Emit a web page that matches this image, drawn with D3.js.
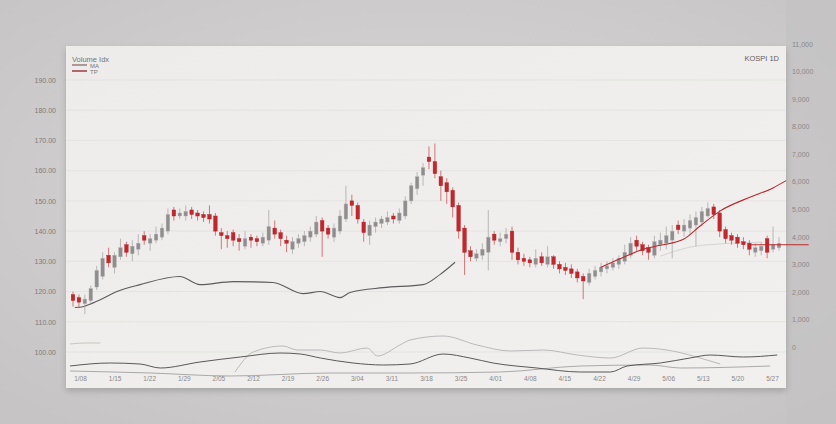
<!DOCTYPE html>
<html><head><meta charset="utf-8">
<script src="https://cdn.jsdelivr.net/npm/d3@7"></script>
<style>html,body{margin:0;padding:0;background:#cbc9ca;}svg{display:block;}</style>
</head><body><svg id="c" width="836" height="424"></svg>
<script>
// ---- data ----
const categories = ["1/08","1/15","1/22","1/29","2/05","2/12","2/19","2/26","3/04","3/11","3/18","3/25","4/01","4/08","4/15","4/22","4/29","5/06","5/13","5/20","5/27"];
const priceTicks = [100,110,120,130,140,150,160,170,180,190];
const volumeTicks = [0,1000,2000,3000,4000,5000,6000,7000,8000,9000,10000,11000];
const opens = [119,118,116,117,121.5,125,132,128,131.5,135.5, 132.5,134,138.5,136,137,138,140,147,145,145, 147,146,145.5,145.5,145,139.5,138.5,139.5,137.5,135, 138,137.5,136,137,141,139.5,137,134,136,136.5, 138,139,143.5,141,138,140,144,150,148.5,143, 138.5,141.5,142.5,143,145,143.5,145,150,154,158.5, 164.5,163,158,156,153.5,148.5,141,133.5,131,132, 133,139,136.5,137.5,140,133,131,130.5,129,131.5, 129,131.5,129,128,127.5,126.5,125,123,125,126.5, 127.5,128,129,130,132,137,135.5,134.5,132,135.5, 136,137,142,140,141,142,143,145,148,146, 140.5,138.5,138,136.5,136,133,133.5,137.5,134,134.5];
const closes = [117,116.5,117.5,121,127,131,129.5,132,134.5,133, 135,136,137,137.5,139,141,145.5,145,146,146.5, 145.5,145,144.5,144,140,138.5,137.5,137,136.5,137.5, 137,136.5,138,141.5,139,137.5,136,136.5,137.5,138.5, 140,143,140,139,141,145,149,148.5,144,139.5, 142,143,144,144.5,144,146,150,155,158,161, 163,159,155,153,148,140,133,131.5,132.5,134, 138,137,137.5,139,133,130.5,130,129.5,131,129.5, 131.5,129,127.5,127,126,124.5,123.5,126,127,128, 128.5,129.5,131,133,136,135,133.5,133,136.5,137, 138.5,140,140.5,142,143.5,144.5,146.5,147.5,145.5,140, 137.5,137,136,135.5,134,134.5,135,133,135.5,136];
const highs = [120,119,119,122,128.5,133,134.5,133,137.5,136.5, 137,139,140,139,141.5,142.5,147.5,148,147.5,148.5, 148,147,146.5,148.5,146,141,140,140.5,139,140, 139,138.5,139.5,147,143.5,140.5,138.5,138,139,140, 141.5,145,144.5,142,142.5,147,155,152,149.5,144, 143.5,144.5,145,146.5,146,147.5,151.5,156,159.5,162.5, 168,169,160,157.5,154.5,149.5,142,135,134,136, 147,140,139.5,141,141.5,134.5,132.5,131.5,134,133, 135,132,130,129.5,129,127.5,126,127.5,128.5,129.5, 130,131,132,135.5,138,138.5,136.5,135.5,138.5,139.5, 141.5,142,143.5,144,145.5,146.5,148,149.5,149,147, 141.5,139.5,139,138,137,136,136.5,138.5,141.5,138];
const lows = [115,114.5,112.5,116,120.5,124,128,126,130.5,131.5, 130,132,135.5,133.5,136,137,139,143.5,144,143.5, 144,143.5,143,142.5,138.5,134,134.5,135,133.5,134, 134.5,135,135,135.5,137.5,135,133,132.5,134.5,135, 136.5,138,131.5,137.5,136.5,139,143,145,142.5,136.5, 135.5,139.5,141,142,142.5,142.5,144,149,152,155, 160.5,157.5,150,149,144.5,137.5,125.5,130,130,130.5, 127,135.5,135,136,130.5,129,128.5,128,128,128.5, 128,127.5,126,125.5,124.5,123,117.5,122,124,125, 126,127,127.5,129,131,133.5,132,130.5,131,133.5, 134,131,139,138,139,135,141.5,144.5,144,138, 136,135.5,134.5,134,132,131.5,132,131,133,133.5];
// moving-average style lines (candle index, price)
const maIndex  = [0.3,1.7,4.6,7.4,11.3,18,21.4,27,33.7,38.8,41.7,45,46.7,52.3,59,61.9,64.4];
const maValues = [114.7,115,117.3,120,122.3,125,122.3,123.3,123,119.3,120,118,119.7,121.3,122.3,125.7,129.7];
const redIndex  = [88.9,92.7,96.1,99,102.9,105.7,109.1,114.2,118,120.2];
const redValues = [128,131.3,134,135.3,137.3,141.7,146.7,151.3,154.3,156.7];
const faintIndex  = [99,104,108.6,115.9];
const faintValues = [131.7,134.7,135.7,136.3];
const lastPrice = 135.5;
// indicator sub-panel lines (candle index, value)
const ind1Index  = [-0.5,6.2,11.3,14.7,21.4,28.2,34.9,38.3,41.7,47.2,52.3,56.8,62.4,66.9,70.8,78.2,85.5,90.6,93.4,99,104,107.4,113,118.7];
const ind1Values = [14,17,16,12,18,23,27,26,22,17,15,16,26,22,17,12,8,8,14,17,22,25,23,25];
const ind2Index  = [27.3,30.4,35.4,37.8,41.7,45,49.6,51.3,55.1,56.8,62.4,68.1,73.7,79.3,85,90.6,96.1,101.9,105.7,109.1];
const ind2Values = [8,28,34,30,30,27,32,24,35,40,44,35,29,30,25,22,32,28,22,16];
const ind3Index  = [-0.5,13,26.5,43.3,56.8,72,85.5,97.3,102.4,117.5];
const ind3Values = [9,7,4,7,7,8,14,15,12,14];
const ind4Index  = [-0.5,2,4.6];
const ind4Values = [36,37,37];

// ---- drawing ----
const svg = d3.select("#c");
const defs = svg.append("defs");
const bg = defs.append("radialGradient").attr("id","bg").attr("cx","50%").attr("cy","45%").attr("r","70%");
bg.append("stop").attr("offset","0%").attr("stop-color","#d9d7d8");
bg.append("stop").attr("offset","100%").attr("stop-color","#c6c4c5");
const pg = defs.append("linearGradient").attr("id","pg").attr("x1","0").attr("y1","0").attr("x2","1").attr("y2","1");
pg.append("stop").attr("offset","0%").attr("stop-color","#edecea");
pg.append("stop").attr("offset","100%").attr("stop-color","#f1f0ee");
const sh = defs.append("filter").attr("id","sh").attr("x","-5%").attr("y","-5%").attr("width","110%").attr("height","115%");
sh.append("feDropShadow").attr("dx",0).attr("dy",3).attr("stdDeviation",3).attr("flood-color","#000").attr("flood-opacity",0.18);

svg.append("rect").attr("width",836).attr("height",424).attr("fill","url(#bg)");
svg.append("rect").attr("x",786).attr("y",0).attr("width",50).attr("height",424).attr("fill","#c3c1c2").attr("opacity",0.6);

const P = {x:66,y:46,w:720,h:342};
svg.append("rect").attr("x",P.x).attr("y",P.y).attr("width",P.w).attr("height",P.h).attr("fill","url(#pg)").attr("filter","url(#sh)");

const n = closes.length;
const x = d3.scaleLinear().domain([0,n-1]).range([73,779]);
const y = d3.scaleLinear().domain([100,190]).range([352,80]);
const yv = d3.scaleLinear().domain([0,11000]).range([347,44]);
const yi = d3.scaleLinear().domain([0,50]).range([380,330]);
const xc = d3.scalePoint().domain(categories).range([80,772]);

const font = "'Liberation Sans', Arial, sans-serif";
// grid
svg.append("g").selectAll("line").data(priceTicks).join("line")
  .attr("x1",P.x).attr("x2",P.x+P.w).attr("y1",d=>y(d)).attr("y2",d=>y(d))
  .attr("stroke","#e2e1df").attr("stroke-width",0.8);

// left axis
const gl = svg.append("g").attr("transform","translate(56,0)")
  .call(d3.axisLeft(y).tickValues(priceTicks).tickSize(0).tickPadding(0).tickFormat(d3.format(".2f")));
gl.select(".domain").remove();
gl.selectAll("text").attr("fill","#7d7b7c").attr("font-size",7).attr("font-family",font);

// right axis
const gr = svg.append("g").attr("transform","translate(792,0)")
  .call(d3.axisRight(yv).tickValues(volumeTicks).tickSize(0).tickPadding(0).tickFormat(d3.format(",")));
gr.select(".domain").remove();
gr.selectAll("text").attr("fill","#8a8889").attr("font-size",7).attr("font-family",font);

// bottom axis
const gb = svg.append("g").attr("transform","translate(0,376)")
  .call(d3.axisBottom(xc).tickSize(0).tickPadding(0));
gb.select(".domain").remove();
gb.selectAll("text").attr("fill","#8a8889").attr("font-size",6.5).attr("font-family",font);

// indicator lines
const line = d3.line().curve(d3.curveMonotoneX);
function drawLine(idx, vals, sc, color, w, op){
  const pts = idx.map((d,i)=>[x(d), sc(vals[i])]);
  svg.append("path").attr("d",line(pts)).attr("fill","none").attr("stroke",color).attr("stroke-width",w).attr("opacity",op);
}
drawLine(ind4Index, ind4Values, yi, "#c9c6b8", 1, 1);
drawLine(ind3Index, ind3Values, yi, "#9a9899", 0.9, 0.9);
drawLine(ind2Index, ind2Values, yi, "#b4b2b3", 0.9, 1);
drawLine(ind1Index, ind1Values, yi, "#5a5859", 1, 1);

// upper lines
drawLine(faintIndex, faintValues, y, "#d6d4d4", 1, 1);
drawLine(maIndex, maValues, y, "#5d5b5c", 1.1, 1);

// candles
const bw = 3.6;
const cg = svg.append("g");
const idxs = d3.range(n);
const up = i => closes[i] >= opens[i];
cg.selectAll("line").data(idxs).join("line")
  .attr("x1",i=>x(i)).attr("x2",i=>x(i)).attr("y1",i=>y(highs[i])).attr("y2",i=>y(lows[i]))
  .attr("stroke",i=>up(i)?"#aaa8a9":"#c9585b").attr("stroke-width",0.8);
cg.selectAll("rect").data(idxs).join("rect")
  .attr("x",i=>x(i)-bw/2).attr("width",bw)
  .attr("y",i=>y(Math.max(opens[i],closes[i])))
  .attr("height",i=>Math.max(1.2, Math.abs(y(opens[i])-y(closes[i]))))
  .attr("fill",i=>up(i)?"#8f8d8e":"#c1272d")
  .attr("stroke",i=>up(i)?"#b3b1b2":"#b22228").attr("stroke-width",0.4);

drawLine(redIndex, redValues, y, "#b8282d", 1.1, 1);
svg.append("line").attr("x1",x(114)).attr("x2",x(124)).attr("y1",y(lastPrice)).attr("y2",y(lastPrice))
  .attr("stroke","#b8282d").attr("stroke-width",1.1);

// title + legend
const tfill = "#777576";
svg.append("text").attr("x",72).attr("y",62).text("Volume Idx").attr("font-size",7.5).attr("fill",tfill).attr("font-family",font);
svg.append("line").attr("x1",72).attr("x2",87).attr("y1",65).attr("y2",65).attr("stroke","#8a6a6b").attr("stroke-width",1.3);
svg.append("text").attr("x",90).attr("y",67.5).text("MA").attr("font-size",6).attr("fill",tfill).attr("font-family",font);
svg.append("line").attr("x1",72).attr("x2",87).attr("y1",71).attr("y2",71).attr("stroke","#8c2228").attr("stroke-width",1.3);
svg.append("text").attr("x",90).attr("y",74).text("TP").attr("font-size",6).attr("fill",tfill).attr("font-family",font);
svg.append("text").attr("x",779).attr("y",61).attr("text-anchor","end").text("KOSPI 1D").attr("font-size",7.5).attr("fill","#5f5d5e").attr("font-family",font);
</script></body></html>
